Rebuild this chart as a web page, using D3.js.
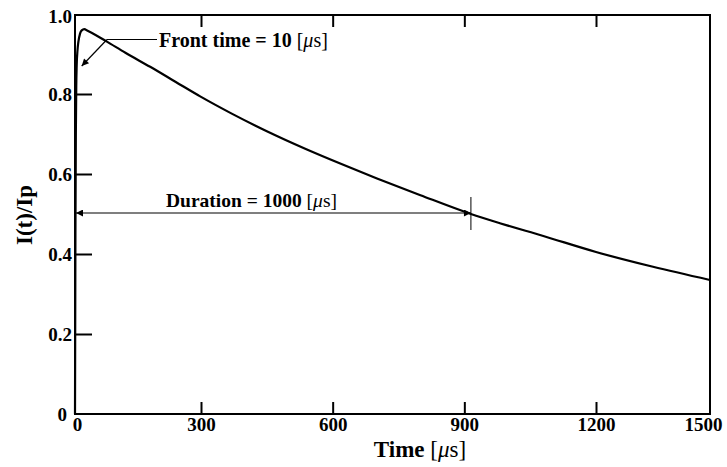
<!DOCTYPE html>
<html><head><meta charset="utf-8">
<script src="https://cdn.jsdelivr.net/npm/d3@7"></script>
<style>body{margin:0;background:#fff}svg{display:block}text{font-family:"Liberation Serif","Times New Roman",serif}</style>
</head><body><svg id="c" width="727" height="467"></svg>
<script>
// Data
const timeUs = [0, 1, 2, 3, 4, 6, 8, 12, 16, 22, 30, 50, 76, 120, 179, 240, 298, 370, 450, 540, 620, 701, 800, 915, 981, 1080, 1200, 1350, 1500];
const current = [0, 0.45, 0.70, 0.82, 0.87, 0.91, 0.93, 0.951, 0.959, 0.962, 0.958, 0.947, 0.931, 0.903, 0.868, 0.830, 0.794, 0.751, 0.707, 0.662, 0.625, 0.589, 0.547, 0.500, 0.477, 0.445, 0.405, 0.368, 0.335];
const xTicks = [0, 300, 600, 900, 1200, 1500];
const yTicks = [0, 0.2, 0.4, 0.6, 0.8, 1.0];
const durationMarkT = 915;   // where the duration arrow ends on the time axis
const frontArrowT = 16, frontArrowV = 0.87;

const svg = d3.select("#c");
const L = 75, R = 710, T = 14, B = 414;
// The scanned axis is slightly non-uniform; a polylinear scale reproduces the tick spacing.
const x = d3.scaleLinear().domain([0, 300, 1200, 1500]).range([75, 201, 596, 710]);
const y = d3.scaleLinear().domain([0, 1]).range([B, T]);

// frame
svg.append("rect").attr("x", L).attr("y", y(1)+1).attr("width", R-L).attr("height", B-y(1)-1)
  .attr("fill", "none").attr("stroke", "#000").attr("stroke-width", 2);

// x ticks bottom and top
const xa = svg.append("g").attr("transform", `translate(0,${B})`)
  .call(d3.axisBottom(x).tickValues(xTicks).tickSizeInner(-12).tickSizeOuter(0).tickFormat(d3.format("d")));
const xt = svg.append("g").attr("transform", `translate(0,${y(1)+1})`)
  .call(d3.axisTop(x).tickValues(xTicks.slice(1,-1)).tickSizeInner(-12).tickSizeOuter(0).tickFormat(""));
const ya = svg.append("g").attr("transform", `translate(${L},0)`)
  .call(d3.axisLeft(y).tickValues(yTicks).tickSizeInner(-17).tickSizeOuter(0)
    .tickFormat(d => d === 0 ? "0" : d3.format(".1f")(d)));
[xa, xt, ya].forEach(g => {
  g.select(".domain").remove();
  g.selectAll(".tick line").attr("stroke", "#000").attr("stroke-width", 2);
  g.selectAll("text").attr("fill", "#000").attr("font-size", 19).attr("font-weight", "bold")
   .attr("font-family", "Liberation Serif, serif");
});
xa.selectAll(".tick").filter(d => d === 0 || d === 1500).select("line").remove();
ya.selectAll(".tick").filter(d => d === 0 || d === 1).select("line").remove();
xa.selectAll("text").attr("y", 17).attr("dy", 0);
xa.selectAll(".tick").filter(d => d === 1500).select("text").attr("x", -7);
xa.selectAll(".tick").filter(d => d === 0).select("text").attr("x", 2);
ya.selectAll("text").attr("x", -3).attr("dy", "0.34em");
ya.selectAll(".tick").filter(d => d === 0).select("text").attr("x", -8);
ya.selectAll(".tick").filter(d => d === 1).select("text").attr("dy", "0.45em");

// curve
const pts = timeUs.map((t, i) => [t, current[i]]);
svg.append("path").datum(pts)
  .attr("d", d3.line().x(d => x(d[0])).y(d => y(d[1])).curve(d3.curveMonotoneX))
  .attr("fill", "none").attr("stroke", "#000").attr("stroke-width", 2.2);

// arrow markers
const defs = svg.append("defs");
defs.append("marker").attr("id", "ah").attr("viewBox", "0 0 10 10").attr("refX", 10).attr("refY", 5)
  .attr("markerWidth", 9).attr("markerHeight", 7).attr("markerUnits", "userSpaceOnUse").attr("orient", "auto-start-reverse")
  .append("path").attr("d", "M0,0L10,5L0,10z").attr("fill", "#000");

// front time annotation
svg.append("line").attr("x1", 157).attr("y1", 39.5).attr("x2", 107).attr("y2", 39.5).attr("stroke", "#000").attr("stroke-width", 1.2);
svg.append("line").attr("x1", 107).attr("y1", 39.5).attr("x2", x(frontArrowT)).attr("y2", y(frontArrowV))
  .attr("stroke", "#000").attr("stroke-width", 1.2).attr("marker-end", "url(#ah)");
const ft = svg.append("text").attr("x", 159).attr("y", 47).attr("font-size", 20);
ft.append("tspan").attr("font-weight", "bold").text("Front time = 10 ");
ft.append("tspan").text("[");
ft.append("tspan").attr("font-style", "italic").text("μ");
ft.append("tspan").text("s]");

// duration annotation
const yd = y(0.5) - 1;
svg.append("line").attr("x1", L+1).attr("y1", yd).attr("x2", x(durationMarkT)).attr("y2", yd)
  .attr("stroke", "#000").attr("stroke-width", 1.2).attr("marker-start", "url(#ah)").attr("marker-end", "url(#ah)");
svg.append("line").attr("x1", x(durationMarkT)).attr("y1", yd-16).attr("x2", x(durationMarkT)).attr("y2", yd+17)
  .attr("stroke", "#000").attr("stroke-width", 1);
const dt = svg.append("text").attr("x", 166).attr("y", 207).attr("font-size", 19.5);
dt.append("tspan").attr("font-weight", "bold").text("Duration = 1000 ");
dt.append("tspan").text("[");
dt.append("tspan").attr("font-style", "italic").text("μ");
dt.append("tspan").text("s]");

// axis titles
const xl = svg.append("text").attr("x", 420).attr("y", 457).attr("text-anchor", "middle").attr("font-size", 23);
xl.append("tspan").attr("font-weight", "bold").text("Time ");
xl.append("tspan").text("[");
xl.append("tspan").attr("font-style", "italic").text("μ");
xl.append("tspan").text("s]");
svg.append("text").attr("transform", "translate(32,215) rotate(-90)").attr("text-anchor", "middle")
  .attr("font-size", 23).attr("font-weight", "bold").text("I(t)/Ip");
</script></body></html>
